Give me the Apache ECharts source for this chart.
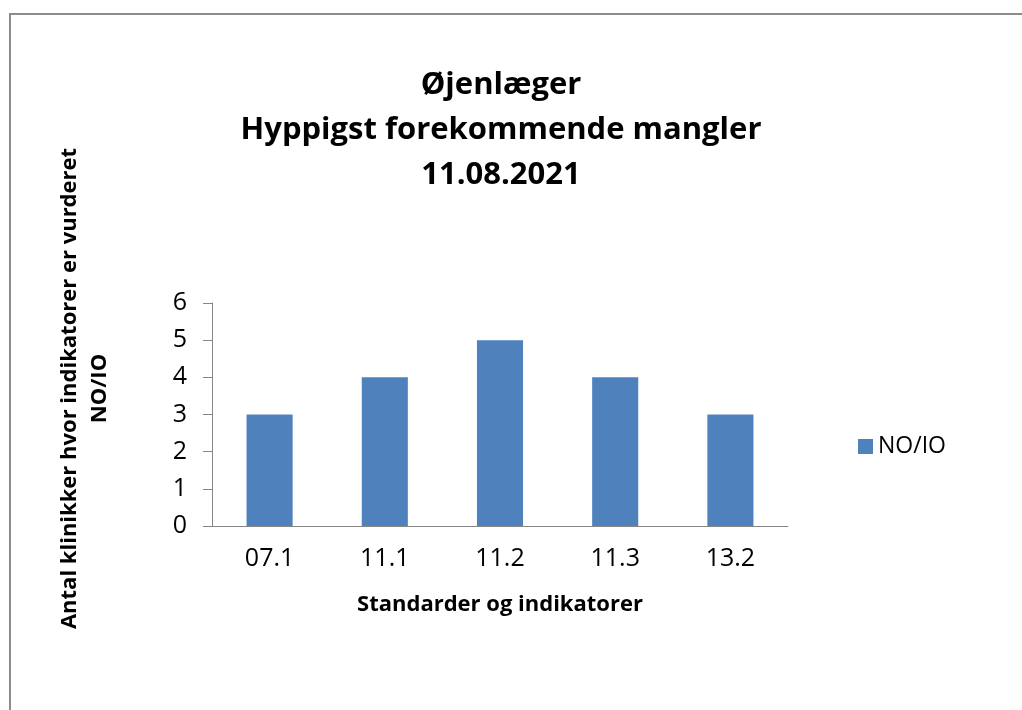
<!DOCTYPE html>
<html lang="da">
  <head>
    <meta charset="UTF-8" />
    <title>Øjenlæger</title>
    <style>
      body {
        margin: 0;
      }
      #main {
        width: 1022px;
        height: 710px;
        background-color: #ffffff;
      }
    </style>
  </head>
  <body>
    <div id="main"></div>
    <script src="https://cdn.jsdelivr.net/npm/echarts@6/dist/echarts.min.js"></script>

    <script>
      // data
      const categories = ["07.1", "11.1", "11.2", "11.3", "13.2"];
      const values = [3, 4, 5, 4, 3];
      const seriesName = "NO/IO";

      const font = "'Open Sans', 'Noto Sans', sans-serif";
      const myChart = echarts.init(document.getElementById("main"));

      const option = {
        textStyle: { fontFamily: font },
        // outer frame
        graphic: [
          {
            type: "rect",
            shape: { x: 10, y: 14, width: 1100, height: 1000 },
            style: { fill: "none", stroke: "#8c8c8c", lineWidth: 2 },
            silent: true,
          },
        ],
        title: {
          text: "Øjenlæger\nHyppigst forekommende mangler\n11.08.2021",
          left: 496,
          top: 58,
          textAlign: "center",
          textStyle: {
            fontFamily: font,
            fontSize: 31,
            fontWeight: "bold",
            color: "#000",
            lineHeight: 45,
          },
        },
        legend: {
          data: [seriesName],
          left: 853,
          top: 430,
          icon: "rect",
          itemWidth: 15,
          itemHeight: 15,
          itemGap: 8,
          textStyle: { fontFamily: font, fontSize: 23, color: "#000" },
        },
        grid: {
          left: 212,
          top: 303,
          right: 234,
          bottom: 184,
          containLabel: false,
        },
        xAxis: {
          type: "category",
          data: categories,
          name: "Standarder og indikatorer",
          nameLocation: "middle",
          nameGap: 68,
          nameTextStyle: {
            fontFamily: font,
            fontSize: 22,
            fontWeight: "bold",
            color: "#000",
          },
          axisLine: { lineStyle: { color: "#868686", width: 1 } },
          axisTick: { length: 9, lineStyle: { color: "#868686" } },
          axisLabel: {
            fontFamily: font,
            fontSize: 25,
            color: "#000",
            margin: 20,
          },
        },
        yAxis: {
          type: "value",
          min: 0,
          max: 6,
          interval: 1,
          name: "Antal klinikker hvor indikatorer er vurderet\nNO/IO",
          nameLocation: "middle",
          nameRotate: 90,
          nameGap: 97,
          nameTextStyle: {
            fontFamily: font,
            fontSize: 22,
            fontWeight: "bold",
            color: "#000",
            lineHeight: 30,
            padding: [0, 0, 0, 52],
          },
          axisLine: { show: true, lineStyle: { color: "#868686", width: 1 } },
          axisTick: { show: true, length: 9, lineStyle: { color: "#868686" } },
          splitLine: { show: false },
          axisLabel: {
            fontFamily: font,
            fontSize: 25,
            color: "#000",
            margin: 25,
          },
        },
        series: [
          {
            name: seriesName,
            type: "bar",
            data: values,
            barWidth: "40%",
            itemStyle: { color: "#4F81BD" },
          },
        ],
      };
      myChart.setOption(option);
    </script>
  </body>
</html>
